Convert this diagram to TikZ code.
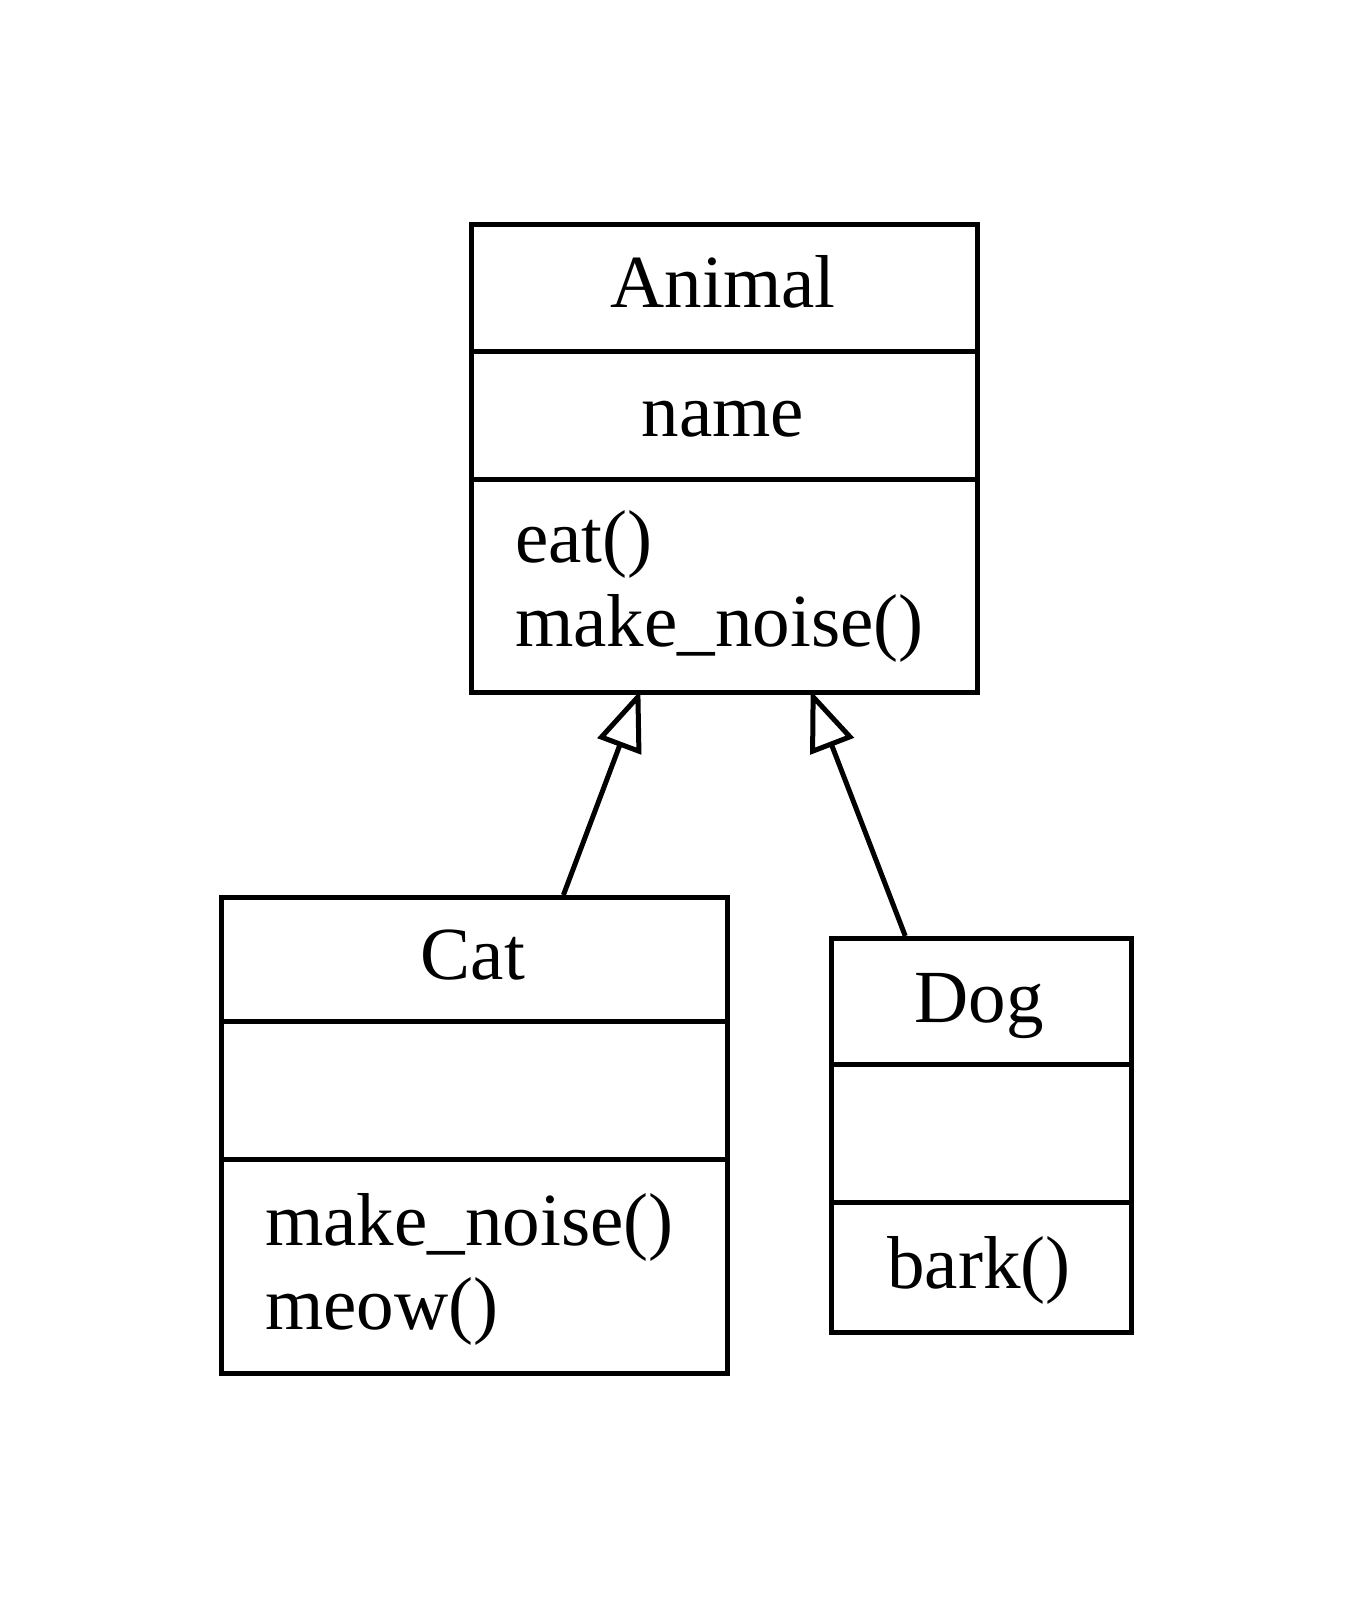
\documentclass[tikz,border=0pt]{standalone}
\usepackage{fontspec}
\setmainfont{Liberation Serif}
\usetikzlibrary{arrows.meta,calc}
\begin{document}
\begin{tikzpicture}[x=1pt,y=-1pt,
  box/.style={draw, line width=5pt, rectangle, inner sep=0pt, anchor=north west},
  rule/.style={line width=5pt},
  txt/.style={inner sep=0pt, font=\fontsize{75}{90}\selectfont},
  inherit/.style={line width=5pt, shorten >=-5pt, -{Triangle[open, length=60pt, width=46pt]}}]
\useasboundingbox (0,0) rectangle (1355,1600);

% Animal class
\node[box, minimum width=506pt, minimum height=468pt] (animal) at (469,222) {};
\draw[rule] (animal.west |- 0,351) -- (animal.east |- 0,351);
\draw[rule] (animal.west |- 0,479) -- (animal.east |- 0,479);
\node[txt, anchor=base] (animalname) at (723,307) {Animal};
\node[txt, anchor=base] (animalattr) at (723,436) {name};
\node[txt, anchor=base west] (animalm1) at (515,562) {eat()};
\node[txt, anchor=base west] (animalm2) at (515,646) {make\_noise()};

% Cat class
\node[box, minimum width=506pt, minimum height=476pt] (cat) at (219,895) {};
\draw[rule] (cat.west |- 0,1021) -- (cat.east |- 0,1021);
\draw[rule] (cat.west |- 0,1159) -- (cat.east |- 0,1159);
\node[txt, anchor=base] (catname) at (473,979) {Cat};
\node[txt, anchor=base west] (catm1) at (265,1245) {make\_noise()};
\node[txt, anchor=base west] (catm2) at (265,1329) {meow()};

% Dog class
\node[box, minimum width=300pt, minimum height=394pt] (dog) at (829,936) {};
\draw[rule] (dog.west |- 0,1064) -- (dog.east |- 0,1064);
\draw[rule] (dog.west |- 0,1202) -- (dog.east |- 0,1202);
\node[txt, anchor=base] (dogname) at (979,1022) {Dog};
\node[txt, anchor=base] (dogm1) at (979,1288) {bark()};

% Generalisation arrows
\draw[inherit] ($(cat.north west)!0.674!(cat.north east)$) -- ($(animal.south west)!0.332!(animal.south east)$);
\draw[inherit] ($(dog.north west)!0.25!(dog.north east)$) -- ($(animal.south west)!0.672!(animal.south east)$);
\end{tikzpicture}
\end{document}
